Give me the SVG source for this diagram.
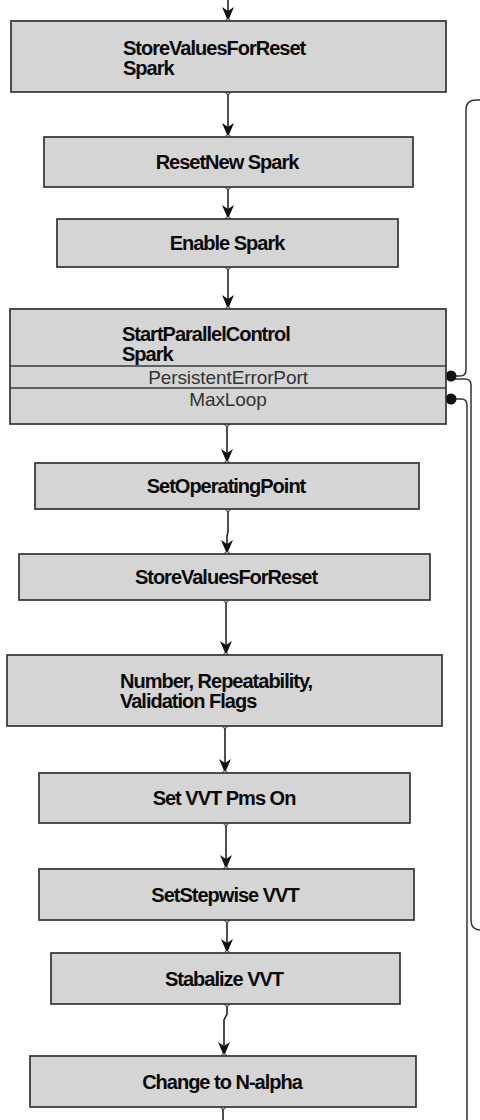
<svg xmlns="http://www.w3.org/2000/svg" width="480" height="1120" viewBox="0 0 480 1120">
<style>
.box{fill:#d5d5d5;stroke:#333;stroke-width:1.7}
.sep{stroke:#3a3a3a;stroke-width:1.3}
.t{font-family:"Liberation Sans",Arial,sans-serif;font-weight:bold;font-size:20px;fill:#0a0a0a;letter-spacing:-1px}
.c{text-anchor:middle}
.p{font-family:"Liberation Sans",Arial,sans-serif;font-size:19px;fill:#333;text-anchor:middle;letter-spacing:-0.1px}
.con{fill:none;stroke:#222;stroke-width:1.6}
.wire{fill:none;stroke:#333;stroke-width:1.5}
.pin{fill:#fff;stroke:#333;stroke-width:1}
</style>
<defs>
<marker id="arr" markerUnits="userSpaceOnUse" markerWidth="14" markerHeight="12" viewBox="0 0 14 12" refX="13" refY="6" orient="auto">
<path d="M0,0 L14,6 L0,12 L4,6 z" fill="#111"/>
</marker>
</defs>
<rect width="480" height="1120" fill="#fff"/>

<g id="connectors">
<path class="con" d="M228,0 V20" marker-end="url(#arr)"/>
<path class="con" d="M228,92 V136" marker-end="url(#arr)"/>
<path class="con" d="M228,187 V218" marker-end="url(#arr)"/>
<path class="con" d="M228,267 V308" marker-end="url(#arr)"/>
<path class="con" d="M227,424 V462" marker-end="url(#arr)"/>
<path class="con" d="M228,509 V532 L227,536 V553" marker-end="url(#arr)"/>
<path class="con" d="M226,600 V654" marker-end="url(#arr)"/>
<path class="con" d="M225,726 V772" marker-end="url(#arr)"/>
<path class="con" d="M226,823 V868" marker-end="url(#arr)"/>
<path class="con" d="M227,920 V952" marker-end="url(#arr)"/>
<path class="con" d="M227,1004 V1014 L224,1020 V1055" marker-end="url(#arr)"/>
<path class="con" d="M223,1107 V1120"/>
<g>
<circle class="pin" cx="228" cy="92" r="2.3"/><circle class="pin" cx="228" cy="137" r="2.3"/>
<circle class="pin" cx="228" cy="187" r="2.3"/><circle class="pin" cx="228" cy="219" r="2.3"/>
<circle class="pin" cx="228" cy="267" r="2.3"/><circle class="pin" cx="228" cy="309" r="2.3"/>
<circle class="pin" cx="227" cy="424" r="2.3"/><circle class="pin" cx="227" cy="463" r="2.3"/>
<circle class="pin" cx="228" cy="509" r="2.3"/><circle class="pin" cx="227" cy="554" r="2.3"/>
<circle class="pin" cx="226" cy="600" r="2.3"/><circle class="pin" cx="226" cy="655" r="2.3"/>
<circle class="pin" cx="225" cy="726" r="2.3"/><circle class="pin" cx="225" cy="773" r="2.3"/>
<circle class="pin" cx="226" cy="823" r="2.3"/><circle class="pin" cx="226" cy="869" r="2.3"/>
<circle class="pin" cx="227" cy="920" r="2.3"/><circle class="pin" cx="227" cy="953" r="2.3"/>
<circle class="pin" cx="227" cy="1004" r="2.3"/><circle class="pin" cx="224" cy="1056" r="2.3"/>
<circle class="pin" cx="223" cy="1107" r="2.3"/><circle class="pin" cx="228" cy="21" r="2.3"/>
</g>
<path class="wire" d="M451,376 H460 Q466,376 466,370 V110 Q466,100 476,100 H482"/>
<path class="wire" d="M451,379 H465 Q471,379 471,385 V920 Q471,930 481,930"/>
<path class="wire" d="M451,399 H461 Q467,399 467,405 V1120"/>
<circle cx="451" cy="376" r="5.5" fill="#111"/>
<circle cx="451" cy="399" r="5.5" fill="#111"/>
</g>

<g id="n1"><rect class="box" x="11" y="21" width="435" height="71"/>
<text class="t" x="123" y="55">StoreValuesForReset</text><text class="t" x="123" y="75">Spark</text></g>
<g id="n2"><rect class="box" x="44" y="137" width="369" height="50"/>
<text class="t c" x="227" y="169">ResetNew Spark</text></g>
<g id="n3"><rect class="box" x="57" y="219" width="341" height="48"/>
<text class="t c" x="227" y="250">Enable Spark</text></g>
<g id="n4"><rect class="box" x="10" y="309" width="436" height="115"/>
<line class="sep" x1="10" y1="366" x2="446" y2="366"/><line class="sep" x1="10" y1="388" x2="446" y2="388"/>
<text class="t" x="122" y="341">StartParallelControl</text><text class="t" x="122" y="361">Spark</text>
<text class="p" x="228" y="384">PersistentErrorPort</text>
<text class="p" x="228" y="406">MaxLoop</text></g>
<g id="n5"><rect class="box" x="35" y="463" width="384" height="46"/>
<text class="t c" x="226" y="493">SetOperatingPoint</text></g>
<g id="n6"><rect class="box" x="19" y="554" width="411" height="46"/>
<text class="t c" x="226" y="584">StoreValuesForReset</text></g>
<g id="n7"><rect class="box" x="7" y="655" width="435" height="71"/>
<text class="t" x="120" y="688">Number, Repeatability,</text><text class="t" x="120" y="708">Validation Flags</text></g>
<g id="n8"><rect class="box" x="39" y="773" width="371" height="50"/>
<text class="t c" x="224" y="805">Set VVT Pms On</text></g>
<g id="n9"><rect class="box" x="39" y="869" width="375" height="51"/>
<text class="t c" x="225" y="902">SetStepwise VVT</text></g>
<g id="n10"><rect class="box" x="51" y="953" width="349" height="51"/>
<text class="t c" x="224" y="986">Stabalize VVT</text></g>
<g id="n11"><rect class="box" x="30" y="1056" width="386" height="51"/>
<text class="t c" x="222" y="1089">Change to N-alpha</text></g>
</svg>
